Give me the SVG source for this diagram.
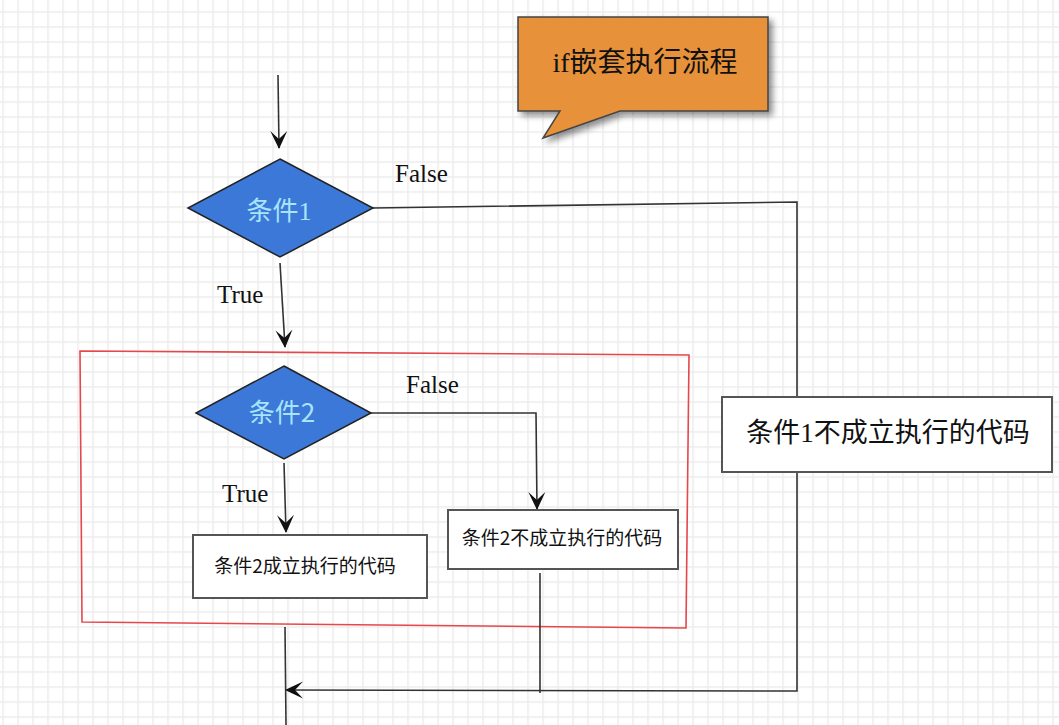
<svg xmlns="http://www.w3.org/2000/svg" width="1059" height="725" viewBox="0 0 1059 725">
<style>
.lbl{font-family:"Liberation Serif","Noto Sans CJK SC",serif;font-size:25px;fill:#111}
.cond{font-family:"Liberation Serif","Noto Sans CJK SC",serif;font-size:26px;fill:#a8e4fb;text-anchor:middle}
.box{fill:#fff;stroke:#555;stroke-width:2}
.dia{fill:#3b78d8;stroke:#222;stroke-width:1.5}
.btxt{font-family:"Noto Sans CJK SC",sans-serif;font-size:19px;fill:#111;text-anchor:middle}
.conn{fill:none;stroke:#333;stroke-width:1.6}
</style>
<defs>
<pattern id="grid" patternUnits="userSpaceOnUse" x="2.25" y="11.25" width="15" height="15">
<rect x="0" y="0" width="15" height="1.5" fill="#ececec"/>
<rect x="0" y="0" width="1.5" height="15" fill="#ececec"/>
</pattern>
<marker id="arr" markerUnits="userSpaceOnUse" viewBox="0 0 20 20" markerWidth="20" markerHeight="20" refX="19" refY="10" orient="auto">
<path d="M20,10 L2,1.5 L10,10 L2,18.5 Z" fill="#111"/>
</marker>
<filter id="sh" x="-10%" y="-10%" width="130%" height="140%">
<feGaussianBlur in="SourceAlpha" stdDeviation="3"/>
<feOffset dx="4" dy="4" result="b"/>
<feComponentTransfer><feFuncA type="linear" slope="0.45"/></feComponentTransfer>
<feMerge><feMergeNode/><feMergeNode in="SourceGraphic"/></feMerge>
</filter>
</defs>
<rect width="1059" height="725" fill="#fff"/>
<rect width="1059" height="725" fill="url(#grid)"/>

<g id="callout">
<path d="M518,17 L768,17 L768,111 L620,111 L543,138 L560,111 L518,111 Z" fill="#e8913a" stroke="#444" stroke-width="1.5" filter="url(#sh)"/>
<text x="645" y="72" text-anchor="middle" style="font-family:'Liberation Serif','Noto Sans CJK SC',serif;font-size:28px;fill:#111">if嵌套执行流程</text>
</g>

<g id="outer-frame">
<path d="M80,351 L689,355 L686,628 L82,622 Z" fill="none" stroke="#e5474b" stroke-width="1.6"/>
</g>

<g id="connectors">
<path class="conn" d="M278,75 L279,148" marker-end="url(#arr)"/>
<path class="conn" d="M280,263 L285,347" marker-end="url(#arr)"/>
<path class="conn" d="M373,208 L797,202 L797,397"/>
<path class="conn" d="M797,472 L797,691 L286,690" marker-end="url(#arr)"/>
<path class="conn" d="M284,463 L286,532" marker-end="url(#arr)"/>
<path class="conn" d="M371,413 L536,413 L537,509" marker-end="url(#arr)"/>
<path class="conn" d="M540,573 L540,693"/>
<path class="conn" d="M285,627 L286,725"/>
</g>

<g id="labels">
<text class="lbl" x="395" y="182">False</text>
<text class="lbl" x="217" y="303">True</text>
<text class="lbl" x="406" y="393">False</text>
<text class="lbl" x="222" y="502">True</text>
</g>

<g id="cond1">
<polygon class="dia" points="280,159 373,208 280,257 188,208"/>
<text class="cond" x="279" y="220">条件1</text>
</g>

<g id="cond2">
<polygon class="dia" points="284,366 371,413 284,459 196,413"/>
<text class="cond" x="282" y="422" style="font-family:'Noto Sans CJK SC',sans-serif">条件2</text>
</g>

<g id="cond2-true">
<rect class="box" x="193" y="535" width="234" height="63"/>
<text class="btxt" x="305" y="573">条件2成立执行的代码</text>
</g>

<g id="cond2-false">
<rect class="box" x="448" y="510" width="230" height="59"/>
<text class="btxt" x="562" y="545">条件2不成立执行的代码</text>
</g>

<g id="cond1-false">
<rect class="box" x="722" y="397" width="330" height="75"/>
<text x="888" y="442" text-anchor="middle" style="font-family:'Liberation Serif','Noto Sans CJK SC',serif;font-size:27px;fill:#111">条件1不成立执行的代码</text>
</g>
</svg>
